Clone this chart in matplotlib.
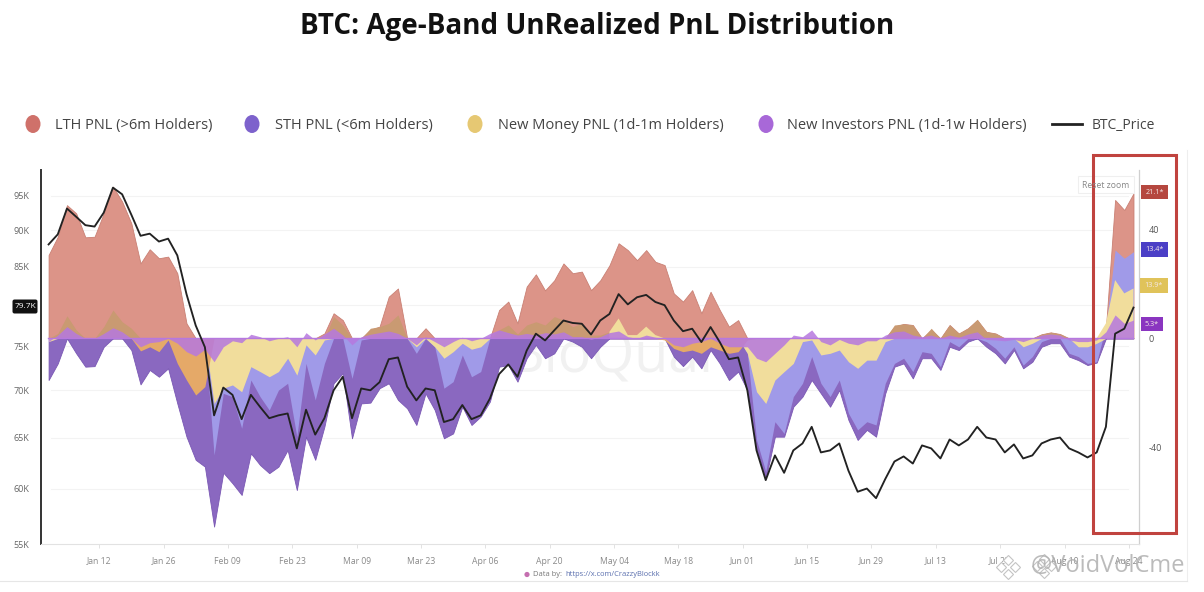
"""BTC age-band unrealized PnL chart: price on a log axis, PnL bands on a linear one."""

import numpy as np
import matplotlib
matplotlib.use("Agg")
import matplotlib.pyplot as plt
from matplotlib.lines import Line2D
from matplotlib.patches import Circle, Ellipse, FancyBboxPatch, Rectangle
from matplotlib.ticker import NullLocator

plt.rcParams["font.family"] = ["Open Sans", "DejaVu Sans"]

W, H = 1204, 592

# one reading every two days, day 0 = Jan 01
days = np.arange(0, 238, 2)

btc_price = [
    88.0, 89.4, 93.1, 91.9, 90.7, 90.5, 92.5, 96.2, 95.2, 92.2,
    89.2, 89.5, 88.4, 88.8, 86.5, 81.4, 77.5, 74.9, 67.3, 70.3,
    69.5, 66.9, 69.5, 68.2, 67.0, 67.3, 67.5, 63.9, 67.9, 65.3,
    67.0, 70.0, 71.5, 67.0, 70.2, 70.0, 70.9, 73.5, 73.7,
    70.4, 68.9, 70.2, 70.0, 66.6, 66.9, 68.4, 66.9, 67.3, 69.1,
    71.8, 72.9, 71.5, 74.5, 76.5, 75.7, 76.9, 78.1, 77.8, 77.7,
    76.4, 78.1, 78.9, 81.4, 80.1, 81.0, 81.3, 80.4, 80.0, 78.1,
    76.8, 77.1, 75.5, 77.3, 75.5, 73.5, 73.7, 70.0, 63.7, 60.8,
    63.2, 61.5, 63.7,
    64.4, 66.1, 63.5, 63.7, 64.4, 61.7, 59.7, 60.0, 59.1, 60.9,
    62.6, 63.1, 62.4, 64.2, 63.9, 62.9, 64.8, 64.2, 64.8, 66.1,
    65.0, 64.8, 63.5, 64.3, 62.9, 63.2, 64.4, 64.8, 65.0, 63.9,
    63.5, 63.0, 63.5, 66.1, 76.5, 77.1, 79.7,
]

lth_pnl = [
    30.6, 37.3, 48.9, 45.9, 37.1, 37.3, 45.9, 55.7, 50.2, 42.2,
    27.5, 32.7, 29.4, 30.0, 23.9, 5.5, 0, 0, 0, 0,
    0, 0, 0, 0, 0, 0, 0, 0, 0, 0,
    1.8, 9.2, 6.7, 0, 0, 3.1, 4.3, 15.3, 18.3,
    0, 0, 3.7, 0, 0, 0, 0, 0, 0, 0,
    10.4, 13.5, 5.5, 19.0, 23.5, 17.6, 21.3, 27.5, 23.9, 24.5,
    17.7, 21.3, 26.8, 34.9, 32.4, 28.7, 32.4, 28.1, 26.9, 16.5,
    13.5, 17.7, 9.2, 17.1, 10.4, 4.3, 6.7, 0, 0, 0,
    0, 0, 0,
    0, 0, 0, 0, 0, 0, 0, 0, 0, 0,
    4.3, 5.3, 4.9, 0, 3.1, 0, 4.9, 1.8, 3.7, 6.7,
    2.4, 1.8, 0, 0, 0, 0, 1.5, 2.2, 1.6, 0,
    0, 0, 0, 3.7, 50.8, 47.1, 53.2,
]

# darker lower band of the short-term holders
sth_low = [
    -15.3, -9.2, 0, -5.5, -10.4, -10.2, -3.1, 0, 0, -4.3,
    -16.9, -11.6, -14.1, -11.0, -23.9, -36.1, -44.6, -47.1, -69.1, -49.3,
    -53.2, -57.5, -42.2, -46.5, -49.5, -47.1, -41.0, -55.7, -36.1, -44.6,
    -32.4, -16.5, -12.8, -36.7, -23.9, -23.6, -18.3, -16.5, -22.6,
    -25.7, -31.8, -20.2, -26.3, -36.7, -34.9, -25.1, -31.8, -28.7, -23.2,
    -10.4, -9.8, -15.9, -7.3, -2.4, -7.3, -5.5, 0, -1.2, -3.1,
    -7.3, -3.1, 0, 0, 0, 0, 0, 0, 0, -6.7,
    -10.2, -6.7, -11.0, -4.3, -9.2, -15.3, -12.2, -19.0, -41.0, -51.4,
    -36.1, -36.1, -25.1,
    -21.4, -15.3, -20.2, -25.1, -19.0, -30.0, -37.3, -33.6, -36.1, -20.2,
    -10.4, -9.2, -14.7, -7.3, -7.3, -11.6, -3.1, -4.3, -1.2, 0,
    -3.1, -5.5, -9.2, -4.3, -11.0, -8.6, -3.1, -1.8, -1.8, -6.7,
    -8.0, -9.8, -8.9, 0, 0, 0, 0,
]

sth_pnl = [
    0, 0, 0, 0, 0, 0, 0, 0, 0, 0,
    0, 0, 0, 0, 0, 0, 0, 0, -42.8, -20.2,
    -21.4, -33.0, -15.3, -21.4, -26.3, -19.0, -16.5, -36.1, -9.2, -22.6,
    -9.2, 0, 0, -14.7, -0.6, 0, 0, 0, 0,
    0, -5.5, 0, -3.1, -18.3, -15.9, -6.1, -14.1, -12.2, 0,
    0, 0, 0, 0, 0, 0, 0, 0, 0, 0,
    0, 0, 0, 0, 0, 0, 0, 0, 0, 0,
    0, 0, 0, 0, 0, 0, 0, -5.5, -37.3, -48.9,
    -30.6, -34.9, -21.4,
    -16.5, -6.7, -16.5, -21.4, -15.3, -27.5, -33.6, -30.6, -31.8, -16.5,
    -9.2, -7.3, -12.2, -4.9, -5.5, -10.4, -1.2, -3.1, 0, 0,
    -1.2, -3.7, -7.3, -3.1, -9.8, -6.7, -1.2, 0, 0, -5.5,
    -6.7, -9.2, -8.6, 4.3, 32.4, 29.4, 31.8,
]

new_money_pnl = [
    -1.2, 1.8, 8.3, 3.1, 0, 0, 4.3, 10.4, 6.1, 3.7,
    0, 0, 0, 0, 0, 0, 0, 0, -23.9, -18.3,
    -17.1, -19.6, -10.4, -12.2, -14.1, -12.2, -7.3, -13.5, -2.4, -6.1,
    -0.6, 8.0, 4.9, 0, 0, 3.7, 4.3, 5.5, 8.6,
    0, -3.1, 0, -3.1, -7.3, -4.9, -1.8, -4.0, -3.1, 0,
    3.1, 4.9, 1.6, 4.9, 6.1, 4.9, 8.0, 6.7, 4.3, 5.5,
    1.2, 1.2, 2.4, 7.3, 1.2, 1.2, 4.3, 1.2, 0, 0,
    0, 0, 0, 0, 0, 0, 0, -5.5, -19.6, -23.9,
    -15.3, -12.2, -9.2,
    -1.2, -0.6, -6.1, -5.5, -4.3, -8.6, -11.0, -8.0, -8.0, -1.2,
    4.9, 5.3, 4.9, 0, 3.7, 0, 4.9, 1.8, 3.7, 7.0,
    2.4, 1.8, 0, 0, -3.1, -1.8, 1.5, 2.2, 1.6, 0,
    -3.1, -3.1, -1.8, 5.5, 21.4, 16.5, 18.3,
]

new_investors_pnl = [
    -1.2, 1.2, 4.3, 1.8, 0, 0, 1.8, 3.9, 2.4, 0,
    -3.1, -1.6, -1.2, 0, -1.8, -4.9, -6.5, -4.0, -8.6, -3.1,
    -0.9, -1.6, 1.5, 0.6, -0.9, 0, 0.6, -3.1, 2.1, -0.6,
    1.6, 3.7, 1.2, -2.4, 0.6, 1.5, 2.1, 2.7, 1.8,
    0, -2.4, 0.6, -1.2, -3.1, -1.2, 0.4, -0.9, 0, 1.8,
    3.1, 2.1, 1.2, 1.8, 1.2, 2.1, 1.6, 2.4, 0.6, 0.6,
    -0.4, 0.6, 2.1, 2.7, 0.6, 0, 1.2, 0.4, 0, -2.4,
    -3.1, -1.8, -1.2, 0, -1.8, -3.1, -3.1, -3.1, -7.3, -8.6,
    -5.5, -2.4, 1.2,
    0.6, 3.1, -1.2, -2.4, -0.4, -1.8, -2.4, -0.9, -0.9, 1.2,
    2.4, 2.7, 1.2, 0.6, 1.2, 0, 1.2, 0.4, 1.6, 2.4,
    -0.4, -0.6, -0.9, -0.4, -1.2, 0, 1.2, 1.6, 1.2, -0.6,
    -1.2, -1.2, -0.6, 2.4, 8.6, 5.5, 6.7,
]

# orange stretches where the long-term and new-money bands overlap below zero
overlap_days = [18, 20, 22, 24, 26, 28, 30, 32, 34, 36,
                132, 134, 136, 138, 140, 142, 144, 146, 148, 150, 152, 154]
overlap_pnl = [0, -4.6, -3.1, -4.9, -0.6, -9.2, -15.3, -20.8, -17.7, 0,
               0, -0.6, -3.7, -4.9, -4.3, -5.5, -3.1, -4.3, -5.5, -4.9, -0.6, 0]

price_ticks = [55, 60, 65, 70, 75, 85, 90, 95]
price_labels = ["55K", "60K", "65K", "70K", "75K", "85K", "90K", "95K"]
grid_levels = [60, 65, 70, 75, 80, 85, 90, 95]
pnl_ticks = [-40, 0, 40]
date_ticks = [11, 25, 39, 53, 67, 81, 95, 109, 123, 137, 151, 165, 179, 193, 207, 221, 235]
date_labels = ["Jan 12", "Jan 26", "Feb 09", "Feb 23", "Mar 09", "Mar 23", "Apr 06",
               "Apr 20", "May 04", "May 18", "Jun 01", "Jun 15", "Jun 29", "Jul 13",
               "Jul 27", "Aug 10", "Aug 24"]

RED, DEEP, LAV = "#dc9488", "#8a68c0", "#a09ae8"
YEL, ORG, PUR = "#f1dd9c", "#e5a968", "#b678df"
TAN = "#c99a72"

fig = plt.figure(figsize=(W / 100, H / 100), dpi=100, facecolor="white")


def px_axes(x0, x1, y0, y1):
    return [x0 / W, 1 - y1 / H, (x1 - x0) / W, (y1 - y0) / H]


# --- price axis (log), the PnL bands share its x ---------------------------------
ax = fig.add_axes(px_axes(40.5, 1139, 170, 544))
ax.set_yscale("log")
ax.set_xlim(-1.76, 237.2)
ax.set_ylim(55, 98.9)
ax.set_yticks(price_ticks)
ax.set_yticklabels(price_labels, fontsize=6.5, color="#666666")
ax.yaxis.set_minor_locator(NullLocator())
ax.set_xticks(date_ticks)
ax.set_xticklabels(date_labels, fontsize=6.2, color="#8a8a8a")
ax.tick_params(axis="x", length=3, width=0.6, color="#dddddd", pad=6)
ax.tick_params(axis="y", length=0, pad=8)
for lv in grid_levels:
    ax.axhline(lv, xmin=0.01, xmax=0.99, color="#f3f3f3", lw=0.8, zorder=0)
ax.spines["top"].set_visible(False)
ax.spines["left"].set_color("#333333")
ax.spines["left"].set_linewidth(1.4)
ax.spines["right"].set_color("#cfcfcf")
ax.spines["right"].set_linewidth(0.9)
ax.spines["bottom"].set_color("#e2e2e2")
ax.spines["bottom"].set_linewidth(0.8)

# faint vendor watermark behind the bands
ax.text(0.538, 0.50, "BioQuant", transform=ax.transAxes, ha="center", va="center",
        fontsize=40, color="#f1f1f1", zorder=1)

pn = ax.twinx()
pn.set_ylim(-75.5, 61.8)
pn.set_yticks(pnl_ticks)
pn.set_yticklabels(["-40", "0", "40"], fontsize=6.5, color="#555555")
pn.tick_params(axis="y", length=0, pad=7)
for s in pn.spines.values():
    s.set_visible(False)

lth = np.array(lth_pnl)
low = np.array(sth_low)
sth = np.array(sth_pnl)
money = np.array(new_money_pnl)
inv = np.array(new_investors_pnl)
money_up = np.maximum(money, 0)

pn.fill_between(days, 0, lth, color=RED, lw=0.6, ec="#c98074", zorder=2)
pn.fill_between(days, 0, low, color=DEEP, lw=0.6, ec="#7a58b4", zorder=2)
pn.fill_between(days, 0, sth, color=LAV, lw=0, zorder=3)
pn.fill_between(days, 0, np.minimum(money, 0), color=YEL, lw=0, zorder=4)
# tan where new money rides on the red band, plain yellow where it stands clear
clear = ((days >= 122) & (days <= 134)) | (days >= 228)
pn.fill_between(days, 0, money_up, color=TAN, lw=0, zorder=4, where=(days <= 122))
pn.fill_between(days, 0, money_up, color=TAN, lw=0, zorder=4, where=(days >= 134) & (days <= 228))
pn.fill_between(days, 0, money_up, color=YEL, lw=0, zorder=4, where=clear)
pn.fill_between(overlap_days, 0, overlap_pnl, color=ORG, lw=0, zorder=5)
pn.fill_between(days, 0, inv, color=PUR, lw=0, alpha=0.85, zorder=6)
pn.axhline(0, xmin=0.007, xmax=0.9935, color=PUR, lw=1.0, zorder=6)

pn.set_zorder(ax.get_zorder() + 1)
pn.patch.set_visible(False)

# the price curve sits above the bands, so it gets its own top axes in price units
ax_line = fig.add_axes(ax.get_position(), sharex=ax, zorder=pn.get_zorder() + 1)
ax_line.set_yscale("log")
ax_line.set_ylim(55, 98.9)
ax_line.axis("off")
ax_line.plot(days, btc_price, color="#222222", lw=1.35, zorder=8)

# --- page furniture, placed in pixels ---------------------------------------------
ov = fig.add_axes([0, 0, 1, 1], zorder=20)
ov.set_xlim(0, W)
ov.set_ylim(H, 0)
ov.axis("off")
ov.patch.set_visible(False)

ov.text(597, 26.5, "BTC: Age-Band UnRealized PnL Distribution", ha="center", va="center",
        fontsize=20, fontweight="bold", color="#111111")

legend_items = [
    (33, 55, "LTH PNL (>6m Holders)", "#cf716a"),
    (252, 275, "STH PNL (<6m Holders)", "#7d62cc"),
    (475, 498, "New Money PNL (1d-1m Holders)", "#e6c873"),
    (766, 787, "New Investors PNL (1d-1w Holders)", "#a868d8"),
]
for mx, tx, label, col in legend_items:
    ov.add_patch(Ellipse((mx, 124), 15, 18, color=col, lw=0))
    ov.text(tx, 129, label, va="baseline", fontsize=10.5, color="#444444")
ov.add_line(Line2D([1052, 1082], [124, 124], color="#222222", lw=2))
ov.text(1092, 129, "BTC_Price", va="baseline", fontsize=10, color="#444444")

# current-price tag on the left axis
ov.add_patch(FancyBboxPatch((13, 300), 24, 13, boxstyle="round,pad=0.5,rounding_size=2",
                            fc="#111111", ec="none"))
ov.text(25, 307, "79.7K", ha="center", va="center", fontsize=6, color="white")

# last-value tags on the right axis
tags = [
    (1141, 185, 27, 14, "#b5473f", "21.1*"),
    (1141, 242, 27, 15, "#4b3fc6", "13.4*"),
    (1140, 278, 28, 15, "#e0c35a", "13.9*"),
    (1141, 317, 22, 14, "#8a35c0", "5.3*"),
]
for x0, y0, w, h, col, label in tags:
    ov.add_patch(Rectangle((x0, y0), w, h, fc=col, ec="none"))
    ov.text(x0 + w / 2, y0 + h / 2, label, ha="center", va="center", fontsize=5.2, color="#f4e8e8")

ov.add_patch(Rectangle((1078, 176), 56, 17, fc="white", ec="#eeeeee", lw=0.8, alpha=0.9))
ov.text(1106, 185, "Reset zoom", ha="center", va="center", fontsize=6.2, color="#888888")

# highlight box round the last days
ov.add_patch(Rectangle((1092.7, 155), 83.3, 378, fc="none", ec="#c0433f", lw=2.2))

# faint frame at the right and bottom of the screenshot
ov.add_line(Line2D([1187, 1187], [150, 581], color="#eeeeee", lw=0.8))
ov.add_line(Line2D([0, 1187], [581, 581], color="#e6e6e6", lw=0.8))

ov.add_patch(Circle((527, 574.5), 2.6, color="#c56fb0", lw=0))
ov.text(533, 574.5, "Data by:", va="center", fontsize=5.4, color="#777777")
ov.text(565, 574.5, "https://x.com/CrazzyBlockk", va="center", fontsize=5.4, color="#5a6fae")

# reposted-image watermark, its logo stamped twice
for dx, dy in [(0, 0), (36, -1)]:
    for ox, oy in [(0, -7), (-7, 0), (7, 0), (0, 7)]:
        ov.plot(1008 + dx + ox, 567 + dy + oy, marker="D", ms=5, mfc="white",
                mec="#c4c4c4", mew=0.8)
ov.text(1031, 566, "@VoidVolCme", va="center", fontsize=17, color="#b0b0b0", alpha=0.85)

fig.savefig("out.png", dpi=100, facecolor="white")
